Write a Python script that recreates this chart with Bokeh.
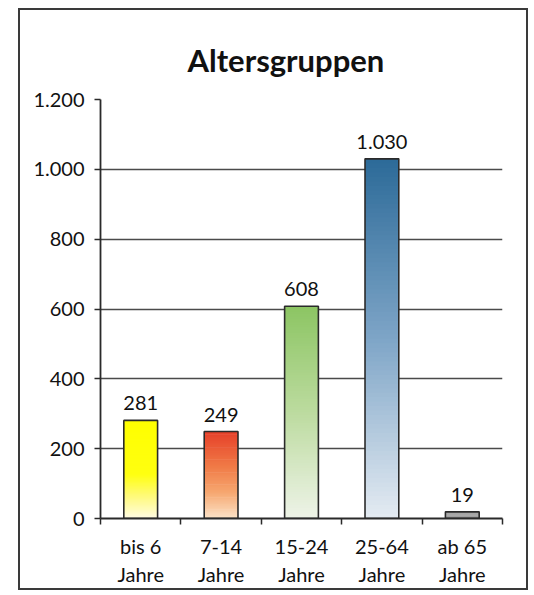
import numpy as np
from bokeh.plotting import figure
from bokeh.models import FixedTicker, ColumnDataSource
from bokeh.core.properties import value
from bokeh.embed import file_html
from bokeh.resources import INLINE

# ---- data ----
TITLE = "Altersgruppen"
CATEGORIES = ["bis 6\nJahre", "7-14\nJahre", "15-24\nJahre", "25-64\nJahre", "ab 65\nJahre"]
VALUES = [281, 249, 608, 1030, 19]
VALUE_LABELS = ["281", "249", "608", "1.030", "19"]
Y_TICKS = [0, 200, 400, 600, 800, 1000, 1200]
Y_TICK_LABELS = ["0", "200", "400", "600", "800", "1.000", "1.200"]

# ---- styles: gradient stops (fraction of bar height from bottom, colour) ----
GRADIENTS = [
    [(0.0, "#fffbe4"), (0.25, "#fffa70"), (0.45, "#ffff10"), (1.0, "#ffff00")],
    [(0.0, "#fce3c8"), (0.3, "#f6a770"), (0.6, "#f07a46"), (1.0, "#e6402a")],
    [(0.0, "#eef3e8"), (0.5, "#bcdb9f"), (1.0, "#8cc563")],
    [(0.0, "#e4ebf2"), (0.5, "#7ea5c7"), (1.0, "#2c6a98")],
    [(0.0, "#8a8a8a"), (1.0, "#7a7a7a")],
]
FONT = "Lato"
DARK = "#2a2a2a"
N_SLICES = 80
BAR_W = 0.42


def hex2rgb(h):
    h = h.lstrip("#")
    return np.array([int(h[i:i + 2], 16) for i in (0, 2, 4)], dtype=float)


def interp(stops, t):
    for (t0, c0), (t1, c1) in zip(stops[:-1], stops[1:]):
        if t0 <= t <= t1:
            f = 0 if t1 == t0 else (t - t0) / (t1 - t0)
            c = hex2rgb(c0) * (1 - f) + hex2rgb(c1) * f
            return "#%02x%02x%02x" % tuple(int(round(v)) for v in c)
    return stops[-1][1]


xs = list(range(1, len(VALUES) + 1))

sx, sb, st, sc = [], [], [], []
for x, v, stops in zip(xs, VALUES, GRADIENTS):
    for k in range(N_SLICES):
        b = v * k / N_SLICES
        t = min(v, v * (k + 1.6) / N_SLICES)
        sx.append(x)
        sb.append(b)
        st.append(t)
        sc.append(interp(stops, (k + 0.5) / N_SLICES))
slices = ColumnDataSource(dict(x=sx, bottom=sb, top=st, color=sc))
bars = ColumnDataSource(dict(x=xs, top=VALUES, label=VALUE_LABELS))

p = figure(
    width=510, height=582,
    x_range=(0.5, len(VALUES) + 0.5), y_range=(0, 1200),
    output_backend="svg", toolbar_location=None,
    min_border_left=80, min_border_right=28, min_border_top=89, min_border_bottom=74,
)
p.styles = {"border": "2px solid #3a3a3a", "margin-left": "18px", "margin-top": "8px"}
p.background_fill_color = "white"
p.border_fill_color = "white"
p.outline_line_color = None

p.title.text = TITLE
p.title.align = "left"
p.title.offset = 87
p.title.text_font = FONT
p.title.text_font_style = "bold"
p.title.text_font_size = "31px"
p.title.text_color = "#111111"
p.title.standoff = 42

p.vbar(x="x", bottom="bottom", top="top", width=BAR_W, source=slices,
       fill_color="color", line_color=None)
p.vbar(x="x", top="top", width=BAR_W, source=bars,
       fill_color=None, line_color=DARK, line_width=1.6)
p.text(x="x", y="top", text="label", source=bars, y_offset=-10,
       text_align="center", text_baseline="bottom",
       text_font=value(FONT), text_font_size="20px", text_color="#111111")

# axes
p.xaxis.ticker = FixedTicker(ticks=xs, minor_ticks=[x - 0.5 for x in xs] + [xs[-1] + 0.5])
p.xaxis.major_label_overrides = {x: c for x, c in zip(xs, CATEGORIES)}
p.xaxis.major_tick_line_color = None
p.xaxis.minor_tick_line_color = DARK
p.xaxis.minor_tick_line_width = 1.5
p.xaxis.minor_tick_out = 6
p.xaxis.minor_tick_in = 0
p.xaxis.axis_line_color = DARK
p.xaxis.axis_line_width = 1.8
p.xaxis.major_label_text_font = FONT
p.xaxis.major_label_text_font_size = "20px"
p.xaxis.major_label_text_color = "#111111"
p.xaxis.major_label_text_line_height = 1.2
p.xaxis.major_label_standoff = 9

p.yaxis.ticker = FixedTicker(ticks=Y_TICKS, minor_ticks=[])
p.yaxis.major_label_overrides = {t: l for t, l in zip(Y_TICKS, Y_TICK_LABELS)}
p.yaxis.major_tick_line_color = DARK
p.yaxis.major_tick_line_width = 1.5
p.yaxis.major_tick_out = 6
p.yaxis.major_tick_in = 0
p.yaxis.axis_line_color = DARK
p.yaxis.axis_line_width = 1.8
p.yaxis.major_label_text_font = FONT
p.yaxis.major_label_text_font_size = "20px"
p.yaxis.major_label_text_color = "#111111"
p.yaxis.major_label_standoff = 10

p.xgrid.grid_line_color = None
p.ygrid.grid_line_color = "#4a4a4a"
p.ygrid.grid_line_width = 1.6
p.ygrid.level = "underlay"

open("out.html", "w").write(file_html(p, INLINE))
